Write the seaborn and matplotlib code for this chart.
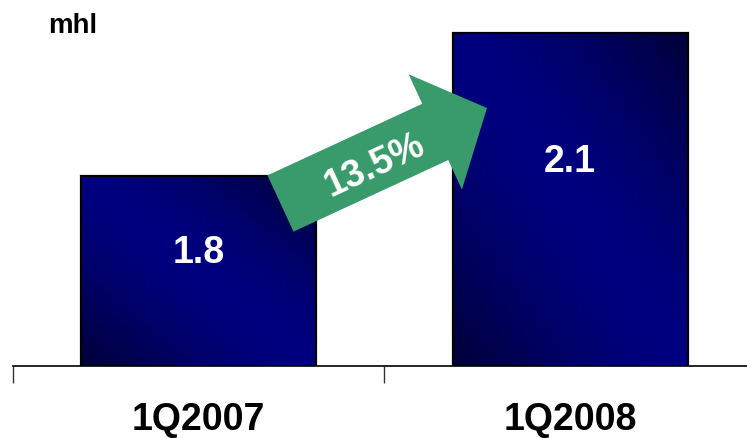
import numpy as np
import matplotlib
matplotlib.use("Agg")
import matplotlib.pyplot as plt
import matplotlib.patches as mpatches
from matplotlib.transforms import IdentityTransform
from matplotlib.colors import LinearSegmentedColormap
import seaborn as sns

# Volumes in mhl per quarter
periods = ["1Q2007", "1Q2008"]
volumes = [1.8, 2.1]
growth_label = "13.5%"
unit_label = "mhl"

sns.set_theme(style="white")
plt.rcParams["font.family"] = ["Liberation Sans", "DejaVu Sans"]

W, H = 747, 438
fig = plt.figure(figsize=(W / 100, H / 100), dpi=100)
ax = fig.add_axes([12.75 / W, 1 - 366 / H, (756 - 12.75) / W, 366 / H])

sns.barplot(x=periods, y=volumes, ax=ax, width=0.633, color="#000080",
            edgecolor="black", linewidth=1.6, saturation=1)

ymin, ymax = 1.4, 2.1694

# Diagonal navy gradient inside each bar: dark at bottom-left / top-right corners
cmap = LinearSegmentedColormap.from_list("navy", ["#000080", "#000038"])
n = 200
gx, gy = np.meshgrid(np.linspace(0, 1, n), np.linspace(0, 1, n))
t = (gx + gy) / 2.0
shade = np.abs(2 * t - 1) ** 1.4
for patch in ax.patches:
    x0 = patch.get_x()
    w = patch.get_width()
    top = patch.get_height()
    img = ax.imshow(shade, cmap=cmap, vmin=0, vmax=1, origin="lower",
                    extent=[x0, x0 + w, ymin, top], aspect="auto",
                    interpolation="bilinear", zorder=1)
    img.set_clip_path(patch)
    patch.set_facecolor("none")
    patch.set_zorder(2)
ax.set_ylim(ymin, ymax)
ax.set_xlim(-0.5, 1.5)

# Value labels inside the bars
label_drop = [0.1835, 0.292]
for i, (v, d) in enumerate(zip(volumes, label_drop)):
    ax.text(i, v - d, f"{v}", ha="center", va="baseline", color="white",
            fontsize=27, fontweight="bold", zorder=3)

# Axes styling
for side in ["left", "top", "right"]:
    ax.spines[side].set_visible(False)
ax.spines["bottom"].set_color("black")
ax.spines["bottom"].set_linewidth(1.2)
ax.set_yticks([])
ax.set_ylabel("")
ax.set_xlabel("")
ax.set_xticks([0, 1])
ax.set_xticklabels(periods)
ax.set_xticks([-0.5, 0.5, 1.5], minor=True)
ax.tick_params(axis="x", which="major", length=0, pad=26, labelsize=27,
               labelcolor="black")
ax.tick_params(axis="x", which="minor", length=12, width=1, direction="out",
               color="#333333", bottom=True)
for lbl in ax.get_xticklabels():
    lbl.set_fontweight("bold")

# Unit label
fig.text(48 / W, 1 - 33 / H, unit_label, fontsize=20, fontweight="bold",
         va="baseline", ha="left", color="black")

# Growth arrow between the bars
tail = (280.5, H - 203.5)
dx, dy = 206.5, 95.5
arrow = mpatches.FancyArrow(tail[0], tail[1], dx, dy, width=62, head_width=127,
                            head_length=57, length_includes_head=True,
                            color="#399B6B", linewidth=0,
                            transform=IdentityTransform(), zorder=5)
fig.add_artist(arrow)
angle = np.degrees(np.arctan2(dy, dx))
fig.text(375 / W, 1 - 166 / H, growth_label, rotation=angle,
         rotation_mode="anchor", ha="center", va="center", color="white",
         fontsize=27, fontweight="bold", zorder=6)

fig.savefig("out.png", dpi=100)
